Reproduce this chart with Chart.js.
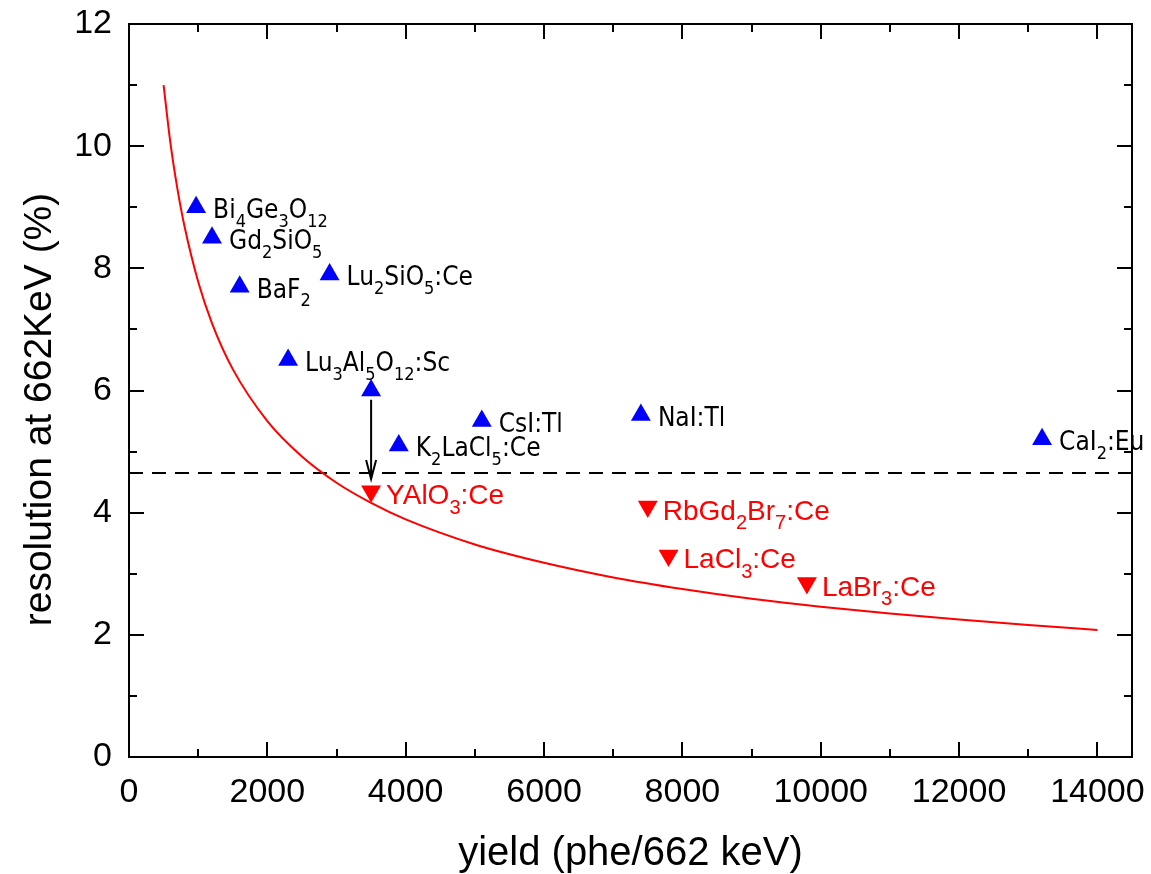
<!DOCTYPE html>
<html>
<head>
<meta charset="utf-8">
<script src="https://cdn.jsdelivr.net/npm/chart.js@4.4.0/dist/chart.umd.min.js"></script>
<style>
  html, body { margin: 0; padding: 0; background: #fff; }
</style>
</head>
<body>
<canvas id="resChart" width="1151" height="874"></canvas>
<script>
// statistical limit curve, read at a set of yields
var curveYield = [500, 600, 700, 800, 1000, 1200, 1500, 2000, 2500, 3000, 3500, 4000, 5000, 6000, 7000, 8000, 9000, 10000, 11000, 12000, 13000, 14000];
var curveRes = [11.0, 10.04, 9.30, 8.70, 7.78, 7.10, 6.35, 5.50, 4.92, 4.49, 4.16, 3.89, 3.48, 3.18, 2.94, 2.75, 2.59, 2.46, 2.35, 2.25, 2.16, 2.08];

// established scintillators (blue, up triangles); "_n" marks a subscript
var oldNames = ['Bi_4Ge_3O_12', 'Gd_2SiO_5', 'BaF_2', 'Lu_2SiO_5:Ce', 'Lu_3Al_5O_12:Sc', '', 'K_2LaCl_5:Ce', 'CsI:Tl', 'NaI:Tl', 'CaI_2:Eu'];
var oldYield = [970, 1200, 1600, 2900, 2300, 3500, 3900, 5100, 7400, 13200];
var oldRes = [9.0, 8.5, 7.7, 7.9, 6.5, 6.0, 5.1, 5.5, 5.6, 5.2];

// Ce-doped scintillators (red, down triangles)
var newNames = ['YAlO_3:Ce', 'RbGd_2Br_7:Ce', 'LaCl_3:Ce', 'LaBr_3:Ce'];
var newYield = [3500, 7500, 7800, 9800];
var newRes = [4.35, 4.1, 3.3, 2.85];

// reference level and the arrow dropping onto it
var refLevel = 4.65;
var arrowYield = 3500;
var arrowFrom = 5.85;
var arrowTo = 4.55;

var xMax = 14500;
var xTicks = [0, 2000, 4000, 6000, 8000, 10000, 12000, 14000];
var xMinor = [1000, 3000, 5000, 7000, 9000, 11000, 13000];
var yTicks = [0, 2, 4, 6, 8, 10, 12];
var yMinor = [1, 3, 5, 7, 9, 11];

var yTitle = 'resolution at 662KeV (%)';

var BLUE = '#0000ff';
var RED = '#ff0000';
var SANS = '"Liberation Sans", Arial, sans-serif';

function toPoints(xs, ys) {
  return xs.map(function (x, i) { return { x: x, y: ys[i] }; });
}

// text with subscripts: "Lu_2SiO_5" -> Lu, 2 (sub), SiO, 5 (sub)
function drawFormula(ctx, text, x, y, size, family, color) {
  var parts = text.split(/_(\d+)/);
  ctx.fillStyle = color;
  ctx.textAlign = 'left';
  ctx.textBaseline = 'alphabetic';
  for (var i = 0; i < parts.length; i++) {
    if (!parts[i]) continue;
    var sub = i % 2 === 1;
    ctx.font = (sub ? Math.round(size * 0.7) : size) + 'px ' + family;
    ctx.fillText(parts[i], x, sub ? y + size * 0.34 : y);
    x += ctx.measureText(parts[i]).width;
  }
}

// keep the plot box fixed; tick labels may hang past it
function noOverhang(s) {
  s.paddingTop = 0; s.paddingBottom = 0;
  s.paddingLeft = 0; s.paddingRight = 0;
}

var decorations = {
  id: 'decorations',
  afterDatasetsDraw: function (chart) {
    var ctx = chart.ctx;
    var xs = chart.scales.x, ys = chart.scales.y;
    var a = chart.chartArea;
    ctx.save();

    // arrow
    var ax = xs.getPixelForValue(arrowYield);
    var a1 = ys.getPixelForValue(arrowFrom);
    var a2 = ys.getPixelForValue(arrowTo);
    ctx.strokeStyle = '#000';
    ctx.lineWidth = 2;
    ctx.beginPath();
    ctx.moveTo(ax, a1);
    ctx.lineTo(ax, a2);
    ctx.moveTo(ax - 5, a2 - 19);
    ctx.lineTo(ax, a2);
    ctx.lineTo(ax + 5, a2 - 19);
    ctx.stroke();

    // labels
    oldNames.forEach(function (n, i) {
      if (!n) return;
      drawFormula(ctx, n, xs.getPixelForValue(oldYield[i]) + 17, ys.getPixelForValue(oldRes[i]) + 11,
        26, '"DejaVu Sans Condensed", "DejaVu Sans", sans-serif', '#000');
    });
    newNames.forEach(function (n, i) {
      drawFormula(ctx, n, xs.getPixelForValue(newYield[i]) + 15, ys.getPixelForValue(newRes[i]) + 13,
        28, SANS, RED);
    });

    // frame
    ctx.strokeStyle = '#000';
    ctx.lineWidth = 2;
    ctx.strokeRect(a.left, a.top, a.right - a.left, a.bottom - a.top);

    // inward ticks on all four sides
    ctx.beginPath();
    function xt(v, len) {
      var p = Math.round(xs.getPixelForValue(v));
      ctx.moveTo(p, a.bottom); ctx.lineTo(p, a.bottom - len);
      ctx.moveTo(p, a.top); ctx.lineTo(p, a.top + len);
    }
    function yt(v, len) {
      var p = Math.round(ys.getPixelForValue(v));
      ctx.moveTo(a.left, p); ctx.lineTo(a.left + len, p);
      ctx.moveTo(a.right, p); ctx.lineTo(a.right - len, p);
    }
    xTicks.forEach(function (v) { xt(v, 15); });
    xMinor.forEach(function (v) { xt(v, 8); });
    yTicks.forEach(function (v) { yt(v, 15); });
    yMinor.forEach(function (v) { yt(v, 8); });
    ctx.stroke();

    // y axis title, sits a little below the middle of the axis
    ctx.translate(a.left - 89, (a.top + a.bottom) / 2 + 19);
    ctx.rotate(-Math.PI / 2);
    ctx.font = '39px ' + SANS;
    ctx.fillStyle = '#000';
    ctx.textAlign = 'center';
    ctx.textBaseline = 'middle';
    ctx.fillText(yTitle, 0, 0);
    ctx.restore();
  }
};

var tickFont = { family: SANS, size: 34 };

new Chart(document.getElementById('resChart'), {
  type: 'scatter',
  data: {
    datasets: [{
      type: 'line',
      data: toPoints(curveYield, curveRes),
      borderColor: RED,
      borderWidth: 2,
      pointRadius: 0,
      cubicInterpolationMode: 'monotone',
      fill: false
    }, {
      type: 'line',
      data: [{ x: 0, y: refLevel }, { x: xMax, y: refLevel }],
      borderColor: '#000',
      borderWidth: 2,
      borderDash: [14, 9],
      pointRadius: 0,
      fill: false
    }, {
      data: toPoints(oldYield, oldRes),
      pointStyle: 'triangle',
      pointRadius: 11.5,
      pointBackgroundColor: BLUE,
      pointBorderWidth: 0
    }, {
      data: toPoints(newYield, newRes),
      pointStyle: 'triangle',
      pointRotation: 180,
      pointRadius: 11.5,
      pointBackgroundColor: RED,
      pointBorderWidth: 0
    }]
  },
  options: {
    responsive: false,
    animation: false,
    events: [],
    layout: { padding: { top: 24, right: 19, left: 0, bottom: 0 } },
    plugins: {
      legend: { display: false },
      tooltip: { enabled: false }
    },
    scales: {
      x: {
        type: 'linear',
        min: 0,
        max: xMax,
        afterBuildTicks: function (s) { s.ticks = xTicks.map(function (v) { return { value: v }; }); },
        afterFit: function (s) { s.height = 117; noOverhang(s); },
        grid: { display: false },
        border: { display: false },
        ticks: {
          font: tickFont, color: '#000', padding: 7, maxRotation: 0, autoSkip: false,
          callback: function (v) { return String(v); }
        },
        title: {
          display: true,
          text: 'yield (phe/662 keV)',
          font: { family: SANS, size: 40, lineHeight: 1.0 },
          color: '#000',
          padding: { top: 0, bottom: 0 }
        }
      },
      y: {
        min: 0,
        max: 12,
        afterBuildTicks: function (s) { s.ticks = yTicks.map(function (v) { return { value: v }; }); },
        afterFit: function (s) { s.width = 129; noOverhang(s); },
        grid: { display: false },
        border: { display: false },
        ticks: {
          font: tickFont, color: '#000', padding: 9,
          callback: function (v) { return String(v); }
        }
      }
    }
  },
  plugins: [decorations]
});
</script>
</body>
</html>
